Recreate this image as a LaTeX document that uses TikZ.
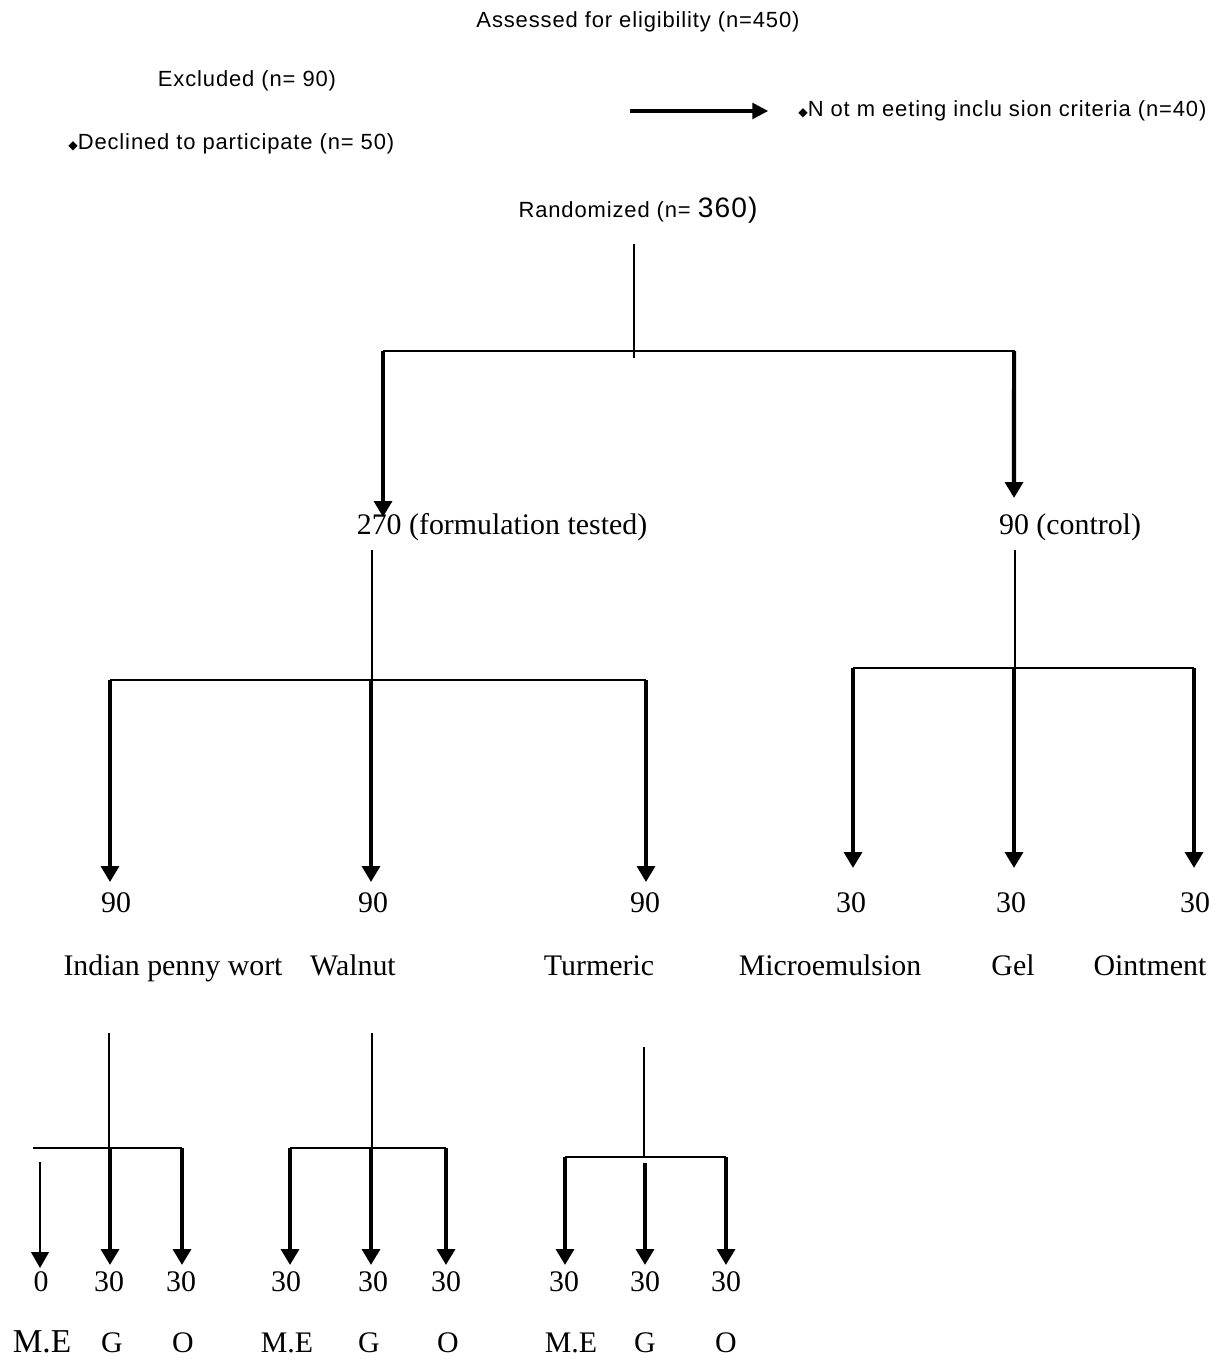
\documentclass[tikz,border=0pt]{standalone}
\usepackage{fontspec}
\setmainfont{Liberation Serif}
\newfontfamily\topsans[LetterSpace=4]{Liberation Sans}
\newfontfamily\symfont{DejaVu Sans}
\usetikzlibrary{arrows.meta}
\newcommand{\dmd}{{\symfont\fontsize{7}{7}\selectfont ◆}}
\tikzset{
  sanslbl/.style={font=\topsans\fontsize{12.5}{14}\selectfont, inner sep=0pt, text height=9pt, text depth=3pt},
  seriflbl/.style={font=\fontsize{17}{19}\selectfont, inner sep=0pt, text height=12pt, text depth=4pt},
  biglbl/.style={font=\fontsize{19}{21}\selectfont, inner sep=0pt, text height=13pt, text depth=4pt},
  thinline/.style={line width=1.1pt},
  thickarrow/.style={line width=2.4pt, -{Triangle[width=10pt,length=9pt]}},
  thinarrow/.style={line width=1.1pt, -{Triangle[width=10pt,length=9pt]}},
  toparrow/.style={line width=1.8pt, -{Triangle[width=9pt,length=9pt]}},
}
\begin{document}
\begin{tikzpicture}[x=0.02cm,y=-0.02cm]
\useasboundingbox (0,0) rectangle (1220,1361);

% top texts
\node[sanslbl] (assess) at (638,22) {Assessed for eligibility (n=450)};
\node[sanslbl] (excl) at (247,81) {Excluded (n= 90)};
\node[sanslbl, anchor=west] (decl) at (68,144) {\dmd Declined to participate (n= 50)};
\node[sanslbl, anchor=west] (notmeet) at (798,111) {\dmd N ot m eeting inclu sion criteria (n=40)};
\coordinate (exstart) at (630,111);
\draw[toparrow, shorten >=17pt] (exstart) -- (notmeet.west);

\node[sanslbl] (rand) at (638,212) {Randomized (n= {\fontsize{16}{18}\selectfont 360)}};

% randomization split
\coordinate (r0) at (634,244);
\coordinate (r1) at (634,358);
\coordinate (hL) at (383,351);
\coordinate (hR) at (1015,351);
\draw[thinline] (r0) -- (r1);
\draw[thinline] (hL) -- (hR);

\node[seriflbl] (form) at (502,527) {270 (formulation tested)};
\node[seriflbl] (ctrl) at (1070,527) {90 (control)};
\coordinate (formtip) at (383,517);
\coordinate (ctrltip) at (1014,498);
\draw[thickarrow] (hL) -- (formtip);
\draw[thickarrow] ([xshift=-0.5pt]hR) -- (ctrltip);

% formulation branch
\coordinate (f0) at (372,550);
\coordinate (f1) at (372,680);
\coordinate (fL) at (110,680);
\coordinate (fR) at (646,680);
\draw[thinline] (f0) -- (f1);
\draw[thinline] (fL) -- (fR);

\node[seriflbl] (n90a) at (116,905) {90};
\node[seriflbl] (n90b) at (373,905) {90};
\node[seriflbl] (n90c) at (645,905) {90};
\coordinate (ta) at (110,882);
\coordinate (tb) at (371,882);
\coordinate (tc) at (646,882);
\draw[thickarrow] (fL) -- (ta);
\draw[thickarrow] (f1 -| tb) -- (tb);
\draw[thickarrow] (fR) -- (tc);

\node[seriflbl] (indian) at (173,968) {Indian penny wort};
\node[seriflbl] (walnut) at (353,968) {Walnut};
\node[seriflbl] (turmeric) at (599,968) {Turmeric};

% control branch
\coordinate (c0) at (1015,550);
\coordinate (c1) at (1015,668);
\coordinate (cL) at (853,668);
\coordinate (cR) at (1194,668);
\draw[thinline] (c0) -- (c1);
\draw[thinline] (cL) -- (cR);

\node[seriflbl] (n30a) at (851,905) {30};
\node[seriflbl] (n30b) at (1011,905) {30};
\node[seriflbl] (n30c) at (1195,905) {30};
\coordinate (tca) at (853,868);
\coordinate (tcb) at (1014,868);
\coordinate (tcc) at (1194,868);
\draw[thickarrow] (cL) -- (tca);
\draw[thickarrow] (c1 -| tcb) -- (tcb);
\draw[thickarrow] (cR) -- (tcc);

\node[seriflbl] (micro) at (830,968) {Microemulsion};
\node[seriflbl] (gel) at (1013,968) {Gel};
\node[seriflbl] (oint) at (1150,968) {Ointment};

% Indian penny wort sub-branch
\coordinate (a0) at (109,1033);
\coordinate (a1) at (109,1148);
\coordinate (aL) at (33,1148);
\coordinate (aR) at (182,1148);
\coordinate (aMs) at (40,1162);
\draw[thinline] (a0) -- (a1);
\draw[thinline] (aL) -- (aR);
\coordinate (aMt) at (40,1268);
\coordinate (aGt) at (110,1265);
\coordinate (aOt) at (182,1265);
\draw[thinarrow] (aMs) -- (aMt);
\draw[thickarrow] (a1 -| aGt) -- (aGt);
\draw[thickarrow] (aR) -- (aOt);
\node[seriflbl] (aMn) at (41,1284) {0};
\node[seriflbl] (aGn) at (109,1284) {30};
\node[seriflbl] (aOn) at (181,1284) {30};
\node[biglbl] (aMl) at (42,1345) {M.E};
\node[seriflbl] (aGl) at (112,1345) {G};
\node[seriflbl] (aOl) at (183,1345) {O};

% Walnut sub-branch
\coordinate (b0) at (372,1033);
\coordinate (b1) at (372,1148);
\coordinate (bL) at (290,1148);
\coordinate (bR) at (446,1148);
\draw[thinline] (b0) -- (b1);
\draw[thinline] (bL) -- (bR);
\coordinate (bMt) at (290,1265);
\coordinate (bGt) at (371,1265);
\coordinate (bOt) at (446,1265);
\draw[thickarrow] (bL) -- (bMt);
\draw[thickarrow] (b1 -| bGt) -- (bGt);
\draw[thickarrow] (bR) -- (bOt);
\node[seriflbl] (bMn) at (286,1284) {30};
\node[seriflbl] (bGn) at (373,1284) {30};
\node[seriflbl] (bOn) at (446,1284) {30};
\node[seriflbl] (bMl) at (287,1345) {M.E};
\node[seriflbl] (bGl) at (369,1345) {G};
\node[seriflbl] (bOl) at (448,1345) {O};

% Turmeric sub-branch
\coordinate (t0) at (644,1047);
\coordinate (t1) at (644,1157);
\coordinate (tL) at (565,1157);
\coordinate (tR) at (726,1157);
\draw[thinline] (t0) -- (t1);
\draw[thinline] (tL) -- (tR);
\coordinate (tGs) at (645,1163);
\coordinate (tMt) at (565,1265);
\coordinate (tGt) at (645,1265);
\coordinate (tOt) at (726,1265);
\draw[thickarrow] (tL) -- (tMt);
\draw[thickarrow] (tGs) -- (tGt);
\draw[thickarrow] (tR) -- (tOt);
\node[seriflbl] (tMn) at (564,1284) {30};
\node[seriflbl] (tGn) at (645,1284) {30};
\node[seriflbl] (tOn) at (726,1284) {30};
\node[seriflbl] (tMl) at (571,1345) {M.E};
\node[seriflbl] (tGl) at (645,1345) {G};
\node[seriflbl] (tOl) at (726,1345) {O};
\end{tikzpicture}
\end{document}
